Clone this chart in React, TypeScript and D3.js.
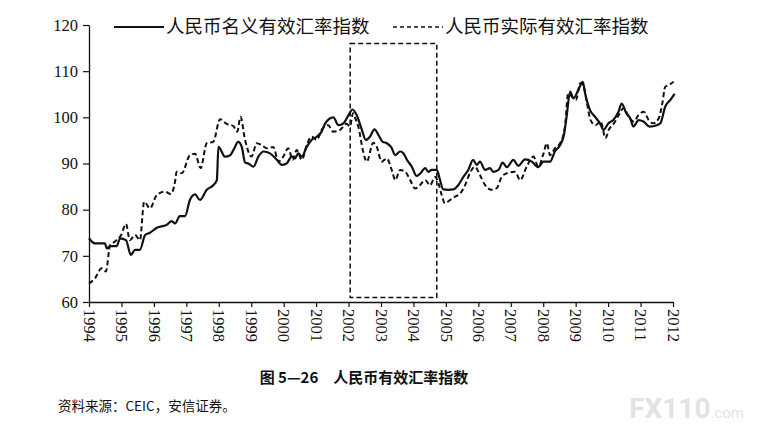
import React, { useRef, useEffect } from "react";
import * as d3 from "d3";

// 人民币名义有效汇率指数 (solid)
const nominalYears = [
  1994.0, 1994.18, 1994.49, 1994.55, 1994.65, 1994.85, 1994.96, 1995.14, 1995.29, 1995.42,
  1995.57, 1995.73, 1995.88, 1996.09, 1996.39, 1996.55, 1996.65, 1996.8, 1996.96, 1997.11,
  1997.27, 1997.42, 1997.63, 1997.83, 1997.94, 1997.99, 1998.19, 1998.35, 1998.45, 1998.6,
  1998.71, 1998.81, 1998.91, 1999.07, 1999.22, 1999.38, 1999.58, 1999.79, 1999.94, 2000.09,
  2000.25, 2000.35, 2000.45, 2000.56, 2000.71, 2000.86, 2001.02, 2001.17, 2001.28, 2001.53,
  2001.69, 2001.84, 2002.0, 2002.12, 2002.25, 2002.41, 2002.53, 2002.66, 2002.8, 2002.92,
  2003.05, 2003.18, 2003.31, 2003.44, 2003.59, 2003.69, 2003.8, 2003.95, 2004.1, 2004.23,
  2004.36, 2004.46, 2004.56, 2004.72, 2004.82, 2004.92, 2005.07, 2005.23, 2005.38, 2005.54,
  2005.69, 2005.84, 2005.95, 2006.05, 2006.21, 2006.36, 2006.46, 2006.62, 2006.75, 2006.88,
  2007.08, 2007.23, 2007.44, 2007.65, 2007.85, 2008.01, 2008.21, 2008.36, 2008.52, 2008.64,
  2008.72, 2008.83, 2008.93, 2009.08, 2009.22, 2009.29, 2009.44, 2009.6, 2009.75, 2009.86,
  2010.01, 2010.16, 2010.32, 2010.42, 2010.56, 2010.68, 2010.78, 2010.94, 2011.09, 2011.28,
  2011.5, 2011.61, 2011.76, 2011.92, 2012.05,
];
const nominalValues = [
  73.8, 72.7, 72.7, 71.6, 72.1, 72.1, 73.8, 73.4, 70.2, 71.3,
  71.3, 74.5, 75.0, 76.1, 76.7, 77.5, 77.0, 78.6, 78.6, 82.1,
  83.3, 82.1, 84.3, 85.3, 86.4, 93.6, 91.5, 91.8, 92.9, 94.7,
  93.6, 90.2, 90.0, 89.3, 91.5, 92.6, 92.2, 90.8, 89.7, 90.0,
  91.5, 91.1, 92.2, 91.5, 93.6, 95.1, 95.8, 96.9, 98.7, 100.0,
  98.3, 98.7, 100.5, 101.7, 100.5, 97.3, 95.1, 95.8, 97.4, 96.2,
  94.7, 94.4, 93.6, 91.8, 92.6, 92.2, 90.8, 89.3, 87.3, 88.0,
  89.0, 88.2, 88.6, 88.6, 86.4, 84.4, 84.3, 84.4, 85.3, 87.1,
  88.6, 90.8, 89.7, 90.4, 88.6, 89.0, 88.2, 88.6, 90.2, 89.2,
  90.8, 89.5, 90.9, 90.4, 89.2, 90.4, 90.4, 92.6, 94.0, 96.2,
  100.1, 105.6, 104.1, 105.9, 107.7, 105.2, 101.6, 100.1, 98.7, 97.3,
  98.7, 99.4, 101.2, 103.0, 100.9, 99.8, 98.0, 99.4, 99.1, 98.0,
  98.3, 98.7, 102.3, 103.8, 105.1,
];

// 人民币实际有效汇率指数 (dashed)
const realYears = [
  1994.0, 1994.18, 1994.39, 1994.52, 1994.65, 1994.8, 1994.99, 1995.14, 1995.26, 1995.42,
  1995.57, 1995.7, 1995.88, 1996.09, 1996.34, 1996.52, 1996.65, 1996.7, 1996.86, 1997.11,
  1997.27, 1997.44, 1997.63, 1997.83, 1998.04, 1998.24, 1998.45, 1998.57, 1998.67, 1998.81,
  1999.01, 1999.17, 1999.32, 1999.48, 1999.68, 1999.84, 1999.99, 2000.14, 2000.28, 2000.4,
  2000.56, 2000.71, 2000.86, 2001.02, 2001.17, 2001.37, 2001.53, 2001.74, 2001.94, 2002.04,
  2002.14, 2002.19, 2002.3, 2002.45, 2002.56, 2002.76, 2002.87, 2003.02, 2003.18, 2003.33,
  2003.44, 2003.59, 2003.75, 2003.9, 2004.05, 2004.2, 2004.36, 2004.51, 2004.67, 2004.77,
  2004.87, 2004.97, 2005.13, 2005.28, 2005.44, 2005.59, 2005.74, 2005.9, 2006.05, 2006.21,
  2006.41, 2006.56, 2006.72, 2006.88, 2007.13, 2007.29, 2007.49, 2007.7, 2007.85, 2008.01,
  2008.11, 2008.21, 2008.36, 2008.52, 2008.67, 2008.77, 2008.88, 2009.01, 2009.14, 2009.25,
  2009.35, 2009.46, 2009.61, 2009.77, 2009.92, 2010.02, 2010.18, 2010.33, 2010.48, 2010.64,
  2010.79, 2010.94, 2011.1, 2011.25, 2011.4, 2011.56, 2011.67, 2011.76, 2011.87, 2012.02,
];
const realValues = [
  64.0, 65.1, 67.3, 66.6, 72.3, 73.1, 74.5, 76.9, 73.4, 74.5,
  73.4, 81.7, 80.3, 83.2, 83.9, 83.4, 86.0, 88.2, 87.9, 91.8,
  92.1, 89.0, 94.4, 94.7, 99.6, 98.6, 98.1, 96.9, 100.1, 95.1,
  91.5, 94.4, 94.0, 93.3, 93.6, 90.4, 91.5, 93.3, 90.8, 92.9,
  90.8, 94.0, 95.8, 95.1, 97.3, 98.3, 96.9, 97.3, 98.6, 98.0,
  100.9, 100.1, 98.0, 92.6, 90.4, 94.5, 93.6, 90.4, 91.1, 88.6,
  86.4, 88.6, 88.2, 86.4, 84.6, 85.3, 86.4, 85.3, 87.1, 85.7,
  83.2, 81.4, 82.1, 82.8, 83.5, 85.3, 87.9, 89.3, 87.5, 85.3,
  84.3, 84.6, 87.1, 87.9, 88.2, 86.4, 89.3, 91.5, 89.3, 92.2,
  94.4, 91.8, 93.3, 94.4, 98.0, 105.2, 104.5, 103.8, 107.4, 106.6,
  103.0, 99.4, 98.3, 99.1, 95.5, 97.3, 98.7, 100.5, 102.0, 100.1,
  99.1, 100.5, 101.2, 99.4, 98.7, 99.8, 103.0, 106.6, 107.0, 107.7,
];

const yearTicks = d3.range(1994, 2013);
const valueTicks = [60, 70, 80, 90, 100, 110, 120];
const seriesNames = ["人民币名义有效汇率指数", "人民币实际有效汇率指数"];
const boxYears = [2002.05, 2004.72];
const boxValues = [61, 116];
const caption = "图 5—26　人民币有效汇率指数";
const source = "资料来源：CEIC，安信证券。";

interface IPoint {
  year: number;
  value: number;
}

const App: React.FC = () => {
  const ref = useRef<SVGSVGElement>(null);
  const width = 758;
  const height = 424;
  const margin = { top: 25, right: 85, bottom: 122, left: 89 };
  const innerWidth = width - margin.left - margin.right;
  const innerHeight = height - margin.top - margin.bottom;

  useEffect(() => {
    const svg = d3.select(ref.current);
    svg.selectAll("*").remove();

    const nominal: IPoint[] = nominalYears.map((y, i) => ({ year: y, value: nominalValues[i] }));
    const real: IPoint[] = realYears.map((y, i) => ({ year: y, value: realValues[i] }));

    const xScale = d3.scaleLinear().domain([1994, 2012]).range([0, innerWidth]);
    const yScale = d3.scaleLinear().domain([60, 120]).range([innerHeight, 0]);

    const g = svg.append("g").attr("transform", `translate(${margin.left}, ${margin.top})`);

    const serif = "'Liberation Serif', 'DejaVu Serif', serif";
    const cjk = "'Noto Sans CJK SC', sans-serif";

    // axes
    const yAxis = d3.axisLeft(yScale).tickValues(valueTicks).tickSize(6).tickSizeOuter(0).tickPadding(5);
    const yg = g.append("g").call(yAxis);
    yg.selectAll("text").attr("font-size", 16.5).attr("font-family", serif).attr("fill", "#111");
    yg.select(".domain").attr("stroke", "#111").attr("stroke-width", 1.3);
    yg.selectAll(".tick line").attr("stroke", "#111").attr("stroke-width", 1.2);

    const xAxis = d3.axisBottom(xScale).tickValues(yearTicks).tickFormat(d3.format("d")).tickSize(5).tickSizeOuter(0);
    const xg = g.append("g").attr("transform", `translate(0, ${innerHeight})`).call(xAxis);
    xg.select(".domain").attr("stroke", "#111").attr("stroke-width", 1.3);
    xg.selectAll(".tick line").attr("stroke", "#111").attr("stroke-width", 1.2);
    xg.selectAll("text")
      .attr("font-size", 16.5)
      .attr("font-family", serif)
      .attr("fill", "#111")
      .attr("text-anchor", "start")
      .attr("dy", "0.35em")
      .attr("y", 0)
      .attr("transform", "translate(0, 7) rotate(90)");

    // highlight box
    g.append("rect")
      .attr("x", xScale(boxYears[0]))
      .attr("y", yScale(boxValues[1]))
      .attr("width", xScale(boxYears[1]) - xScale(boxYears[0]))
      .attr("height", yScale(boxValues[0]) - yScale(boxValues[1]))
      .attr("fill", "none")
      .attr("stroke", "#111")
      .attr("stroke-width", 1.5)
      .attr("stroke-dasharray", "5,3");

    const line = d3
      .line<IPoint>()
      .x((d) => xScale(d.year))
      .y((d) => yScale(d.value))
      .curve(d3.curveMonotoneX);

    g.append("path")
      .attr("d", line(real) || "")
      .attr("fill", "none")
      .attr("stroke", "#111")
      .attr("stroke-width", 2)
      .attr("stroke-dasharray", "5,3");

    g.append("path")
      .attr("d", line(nominal) || "")
      .attr("fill", "none")
      .attr("stroke", "#111")
      .attr("stroke-width", 2.2);

    // legend
    const legend = svg.append("g");
    legend.append("line").attr("x1", 114).attr("x2", 164).attr("y1", 27).attr("y2", 27)
      .attr("stroke", "#111").attr("stroke-width", 2);
    legend.append("text").attr("x", 166).attr("y", 27).attr("dy", "0.35em")
      .attr("font-family", cjk).attr("font-size", 18.5).attr("fill", "#111").text(seriesNames[0]);
    legend.append("line").attr("x1", 393).attr("x2", 443).attr("y1", 27).attr("y2", 27)
      .attr("stroke", "#111").attr("stroke-width", 1.5).attr("stroke-dasharray", "4,3");
    legend.append("text").attr("x", 445).attr("y", 27).attr("dy", "0.35em")
      .attr("font-family", cjk).attr("font-size", 18.5).attr("fill", "#111").text(seriesNames[1]);

    // caption & source
    svg.append("text").attr("x", 364).attr("y", 378).attr("dy", "0.35em").attr("text-anchor", "middle")
      .attr("font-family", cjk).attr("font-weight", "bold").attr("font-size", 15).attr("fill", "#111")
      .text(caption);
    svg.append("text").attr("x", 58).attr("y", 406).attr("dy", "0.35em")
      .attr("font-family", cjk).attr("font-size", 13.5).attr("fill", "#111").text(source);

    // watermark
    const wm = svg.append("text").attr("x", 744).attr("y", 418).attr("text-anchor", "end")
      .attr("font-family", "Roboto, sans-serif").attr("fill", "#e3e3e3");
    wm.append("tspan").attr("font-size", 28).attr("font-weight", "bold").text("FX110");
    wm.append("tspan").attr("font-size", 15).text(".com");
  }, []);

  return (
    <svg
      ref={ref}
      width={width}
      height={height}
      style={{ position: "absolute", left: 0, top: 0, background: "#fff" }}
    ></svg>
  );
};

export default App;
